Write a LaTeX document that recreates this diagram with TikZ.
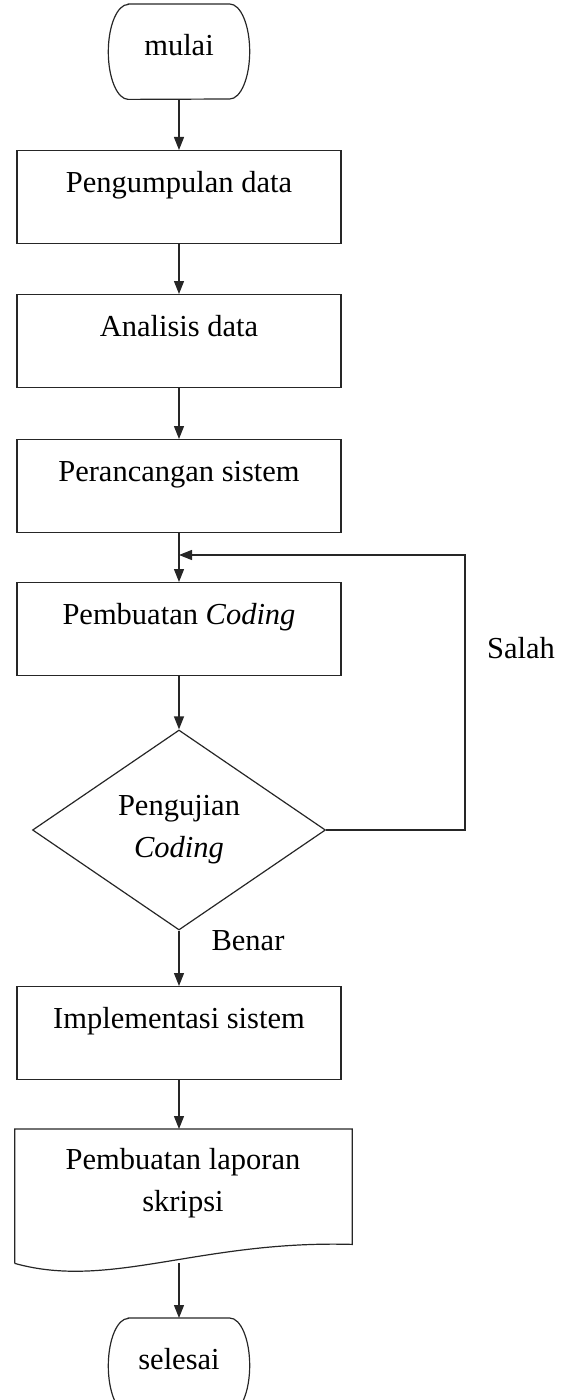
\documentclass[tikz,border=0pt]{standalone}
\usepackage{fontspec}
\setmainfont{Liberation Serif}
\usetikzlibrary{shapes.geometric,arrows.meta}

\tikzset{
  garis/.style={line width=1.2bp, draw=black!85},
  panah/.style={garis, -{Triangle[width=10bp,length=13bp]}},
  proses/.style={garis, rectangle, minimum width=324bp, inner sep=0pt,
    text height=42bp, text depth=51bp, anchor=north},
  terminal/.style={rectangle, minimum width=141bp, inner sep=0pt,
    text height=51bp, text depth=44bp, anchor=north},
  keputusan/.style={garis, diamond, minimum width=293bp, minimum height=200bp,
    inner sep=0pt, align=center},
  dokumen/.style={rectangle, minimum width=337bp, minimum height=134bp,
    inner sep=0pt, anchor=north},
  ket/.style={inner sep=0pt}
}

\begin{document}
\begin{tikzpicture}[x=1bp, y=-1bp, font=\fontsize{30.5bp}{42bp}\selectfont]
 \useasboundingbox (0,0) rectangle (563,1400);
 \clip (0,0) rectangle (563,1400);

 % langkah-langkah
 \node (mulai) [terminal] at (179,4) {mulai};
 \node (kumpul) [proses] at (179,150) {Pengumpulan data};
 \node (analisis) [proses] at (179,294) {Analisis data};
 \node (rancang) [proses] at (179,439) {Perancangan sistem};
 \node (coding) [proses] at (179,582) {Pembuatan \textit{Coding}};
 \node (uji) [keputusan] at (179,830) {Pengujian\\\textit{Coding}};
 \node (implementasi) [proses] at (179,986) {Implementasi sistem};
 \node (laporan) [dokumen] at (183.5,1129) {};
 \node (teksLaporan) [align=center] at (183,1183) {Pembuatan laporan\\skripsi};
 \node (selesai) [terminal] at (179,1318) {selesai};

 % bentuk terminal
 \foreach \t in {mulai,selesai}
  \draw[garis] ([xshift=20bp]\t.north west) -- ([xshift=-20bp]\t.north east)
    arc[start angle=90, end angle=-90, x radius=20bp, y radius=47.5bp]
    -- ([xshift=20bp]\t.south west)
    arc[start angle=270, end angle=90, x radius=20bp, y radius=47.5bp] -- cycle;

 % bentuk dokumen
 \draw[garis] (laporan.south west) -- (laporan.north west) -- (laporan.north east)
   -- ([yshift=19bp]laporan.south east)
   .. controls (200,1240) and (110,1290) .. (laporan.south west);

 % panah
 \draw[panah] (mulai.south) -- (kumpul.north);
 \draw[panah] (kumpul.south) -- (analisis.north);
 \draw[panah] (analisis.south) -- (rancang.north);
 \draw[panah] (rancang.south) -- (coding.north);
 \draw[panah] (coding.south) -- (uji.north);
 \draw[panah] (uji.south) -- (implementasi.north);
 \draw[panah] (implementasi.south) -- (implementasi.south |- laporan.north);
 \draw[panah] (laporan.south -| selesai.north) -- (selesai.north);

 % kembali jika salah
 \coordinate (balik) at (465,555);
 \draw[panah] (uji.east) -| (balik) -- (balik -| coding.north);

 \node (benar) [ket] at (248,941) {Benar};
 \node (salah) [ket] at (521,648) {Salah};
\end{tikzpicture}
\end{document}
